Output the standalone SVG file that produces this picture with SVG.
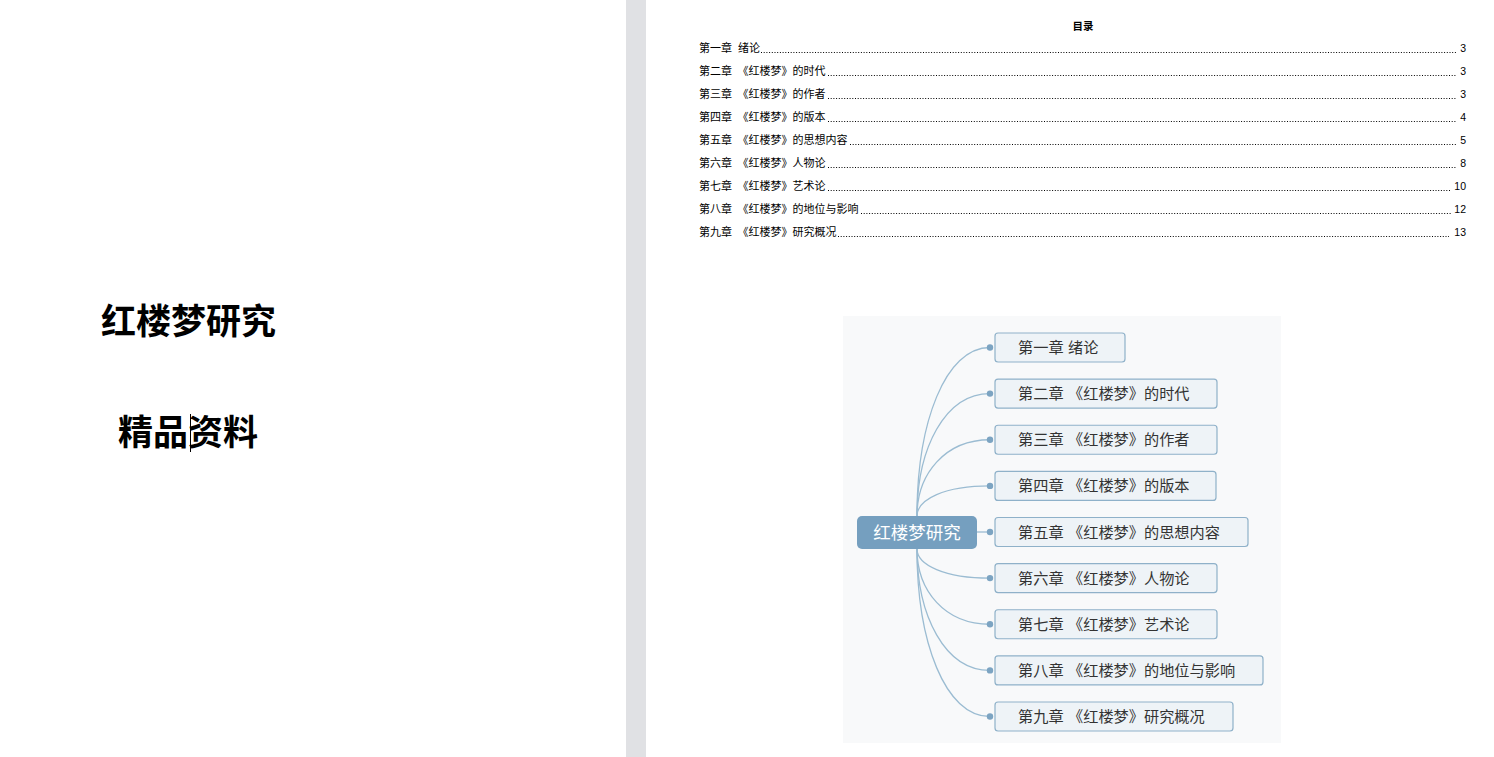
<svg xmlns="http://www.w3.org/2000/svg" width="1494" height="757" viewBox="0 0 1494 757">
<style>
text{text-spacing-trim:space-all}
.cover{font-family:"Noto Sans CJK SC",sans-serif;font-weight:bold;font-size:35px;fill:#000}
.toc{font-family:"Noto Sans CJK SC",sans-serif;font-size:11px;fill:#000}
.pg{font-family:"Liberation Sans",Arial,sans-serif;font-size:10.5px;fill:#000;text-anchor:end}
.lead{stroke:#000;stroke-width:1;stroke-dasharray:1 1.7}
.box{fill:#eef3f7;stroke:#8fb1c9;stroke-width:1.2}
.lbl{font-family:"Noto Sans CJK SC",sans-serif;font-size:15.2px;fill:#333}
.conn path{fill:none;stroke:#9bbcd2;stroke-width:1.3}
.dot{fill:#7ca4c2}
</style>
<rect width="1494" height="757" fill="#fff"/>
<rect x="626" y="0" width="20" height="757" fill="#e0e1e4"/>

<g id="cover">
<text class="cover" x="101" y="334">红楼梦研究</text>
<text class="cover" x="118" y="445">精品资料</text>
<line x1="190.5" y1="414" x2="190.5" y2="452" stroke="#000" stroke-width="1"/>
</g>

<g id="toc">
<text x="1083" y="30" font-family="Noto Sans CJK SC,sans-serif" font-size="10.5" font-weight="bold" text-anchor="middle">目录</text>
<text class="toc" y="52"><tspan x="699">第一章</tspan><tspan x="738">绪论</tspan></text>
<text class="toc" y="75"><tspan x="699">第二章</tspan><tspan x="737.5">《红楼梦》的时代</tspan></text>
<text class="toc" y="98"><tspan x="699">第三章</tspan><tspan x="737.5">《红楼梦》的作者</tspan></text>
<text class="toc" y="121"><tspan x="699">第四章</tspan><tspan x="737.5">《红楼梦》的版本</tspan></text>
<text class="toc" y="144"><tspan x="699">第五章</tspan><tspan x="737.5">《红楼梦》的思想内容</tspan></text>
<text class="toc" y="167"><tspan x="699">第六章</tspan><tspan x="737.5">《红楼梦》人物论</tspan></text>
<text class="toc" y="190"><tspan x="699">第七章</tspan><tspan x="737.5">《红楼梦》艺术论</tspan></text>
<text class="toc" y="213"><tspan x="699">第八章</tspan><tspan x="737.5">《红楼梦》的地位与影响</tspan></text>
<text class="toc" y="236"><tspan x="699">第九章</tspan><tspan x="737.5">《红楼梦》研究概况</tspan></text>
<line class="lead" x1="761" y1="52.5" x2="1457" y2="52.5"/>
<line class="lead" x1="828" y1="75.5" x2="1457" y2="75.5"/>
<line class="lead" x1="828" y1="98.5" x2="1457" y2="98.5"/>
<line class="lead" x1="828" y1="121.5" x2="1457" y2="121.5"/>
<line class="lead" x1="850" y1="144.5" x2="1457" y2="144.5"/>
<line class="lead" x1="828" y1="167.5" x2="1457" y2="167.5"/>
<line class="lead" x1="828" y1="190.5" x2="1451" y2="190.5"/>
<line class="lead" x1="861" y1="213.5" x2="1451" y2="213.5"/>
<line class="lead" x1="838" y1="236.5" x2="1449" y2="236.5"/>
<text class="pg" x="1466" y="52">3</text>
<text class="pg" x="1466" y="75">3</text>
<text class="pg" x="1466" y="98">3</text>
<text class="pg" x="1466" y="121">4</text>
<text class="pg" x="1466" y="144">5</text>
<text class="pg" x="1466" y="167">8</text>
<text class="pg" x="1466" y="190">10</text>
<text class="pg" x="1466" y="213">12</text>
<text class="pg" x="1466" y="236">13</text>
</g>

<rect x="843" y="316" width="438" height="427" fill="#f8f9fa"/>

<g id="connectors" class="conn">
<path d="M917,516 C917,423 945,347.5 990,347.5"/>
<path d="M917,516 C917,448 945,393.6 990,393.6"/>
<path d="M917,516 C917,474 945,439.75 990,439.75"/>
<path d="M917,516 C917,499 945,485.9 990,485.9"/>
<path d="M977,532 L990,532"/>
<path d="M917,549 C917,565 945,578.1 990,578.1"/>
<path d="M917,549 C917,591 945,624.25 990,624.25"/>
<path d="M917,549 C917,616 945,670.4 990,670.4"/>
<path d="M917,549 C917,642 945,716.5 990,716.5"/>
<circle class="dot" cx="990" cy="347.5" r="3.2"/>
<circle class="dot" cx="990" cy="393.6" r="3.2"/>
<circle class="dot" cx="990" cy="439.75" r="3.2"/>
<circle class="dot" cx="990" cy="485.9" r="3.2"/>
<circle class="dot" cx="990" cy="532" r="3.2"/>
<circle class="dot" cx="990" cy="578.1" r="3.2"/>
<circle class="dot" cx="990" cy="624.25" r="3.2"/>
<circle class="dot" cx="990" cy="670.4" r="3.2"/>
<circle class="dot" cx="990" cy="716.5" r="3.2"/>
</g>

<g id="root">
<rect x="857" y="516" width="120" height="33" rx="5" fill="#759fbf"/>
<text x="917" y="538.5" font-family="Noto Sans CJK SC,sans-serif" font-size="17.5" fill="#fff" text-anchor="middle">红楼梦研究</text>
</g>
<g id="ch1"><rect class="box" x="995" y="333" width="130" height="29" rx="3"/><text class="lbl" y="353"><tspan x="1018">第一章</tspan><tspan x="1068">绪论</tspan></text></g>
<g id="ch2"><rect class="box" x="995" y="379.1" width="222" height="29" rx="3"/><text class="lbl" y="399.1"><tspan x="1018">第二章</tspan><tspan x="1068">《红楼梦》的时代</tspan></text></g>
<g id="ch3"><rect class="box" x="995" y="425.25" width="222" height="29" rx="3"/><text class="lbl" y="445.25"><tspan x="1018">第三章</tspan><tspan x="1068">《红楼梦》的作者</tspan></text></g>
<g id="ch4"><rect class="box" x="995" y="471.4" width="221" height="29" rx="3"/><text class="lbl" y="491.4"><tspan x="1018">第四章</tspan><tspan x="1068">《红楼梦》的版本</tspan></text></g>
<g id="ch5"><rect class="box" x="995" y="517.5" width="253" height="29" rx="3"/><text class="lbl" y="537.5"><tspan x="1018">第五章</tspan><tspan x="1068">《红楼梦》的思想内容</tspan></text></g>
<g id="ch6"><rect class="box" x="995" y="563.6" width="222" height="29" rx="3"/><text class="lbl" y="583.6"><tspan x="1018">第六章</tspan><tspan x="1068">《红楼梦》人物论</tspan></text></g>
<g id="ch7"><rect class="box" x="995" y="609.75" width="222" height="29" rx="3"/><text class="lbl" y="629.75"><tspan x="1018">第七章</tspan><tspan x="1068">《红楼梦》艺术论</tspan></text></g>
<g id="ch8"><rect class="box" x="995" y="655.9" width="268" height="29" rx="3"/><text class="lbl" y="675.9"><tspan x="1018">第八章</tspan><tspan x="1068">《红楼梦》的地位与影响</tspan></text></g>
<g id="ch9"><rect class="box" x="995" y="702" width="238" height="29" rx="3"/><text class="lbl" y="722"><tspan x="1018">第九章</tspan><tspan x="1068">《红楼梦》研究概况</tspan></text></g>
</svg>
